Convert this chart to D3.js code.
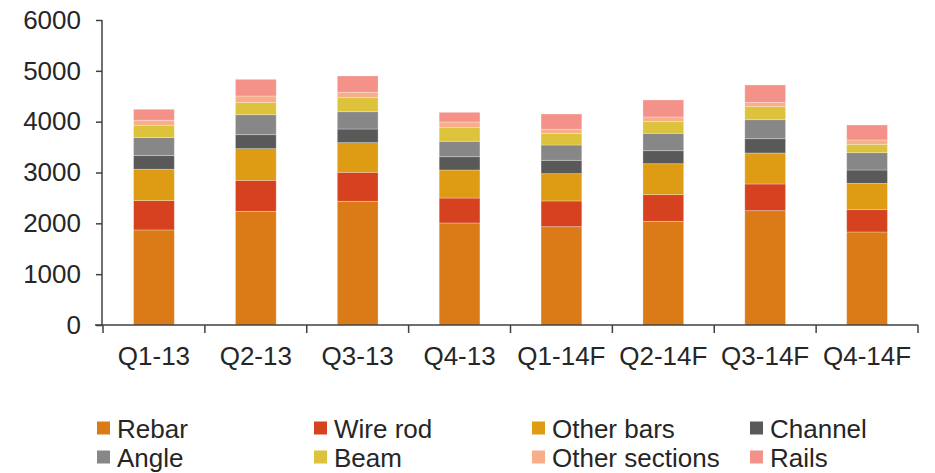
<!DOCTYPE html>
<html>
<head>
<meta charset="utf-8">
<script src="https://cdn.jsdelivr.net/npm/d3@7"></script>
<style>
  html, body { margin: 0; padding: 0; background: #fff; }
  svg { display: block; font-family: "Liberation Sans", Arial, sans-serif; }
</style>
</head>
<body>
<svg id="chart" width="935" height="473"></svg>
<script>
const categories = ["Q1-13", "Q2-13", "Q3-13", "Q4-13", "Q1-14F", "Q2-14F", "Q3-14F", "Q4-14F"];
const seriesNames = ["Rebar", "Wire rod", "Other bars", "Channel", "Angle", "Beam", "Other sections", "Rails"];
const rebar         = [1870, 2237, 2434, 2007, 1934, 2040, 2249, 1830];
const wireRod       = [577, 609, 570, 491, 506, 524, 525, 439];
const otherBars     = [617, 623, 583, 551, 537, 609, 610, 518];
const channel       = [268, 275, 269, 262, 263, 256, 281, 262];
const angle         = [354, 393, 340, 303, 301, 342, 374, 341];
const beam          = [243, 237, 276, 268, 230, 229, 256, 165];
const otherSections = [99, 131, 106, 112, 79, 92, 86, 85];
const rails         = [216, 328, 321, 190, 301, 335, 341, 295];
const yTicks = [0, 1000, 2000, 3000, 4000, 5000, 6000];
const colors = ["#DA7B18", "#D6421F", "#DE9B14", "#595959", "#878787", "#DDC23B", "#F8AE88", "#F4928A"];

const seriesValues = [rebar, wireRod, otherBars, channel, angle, beam, otherSections, rails];
const table = categories.map((c, i) => {
  const row = { cat: c };
  seriesNames.forEach((s, j) => row[s] = seriesValues[j][i]);
  return row;
});

const svg = d3.select("#chart");
const textColor = "#262626";
const axisColor = "#404040";

const x = d3.scaleBand().domain(categories).range([103, 918]).paddingInner(0.6).paddingOuter(0.3);
const y = d3.scaleLinear().domain([0, 6000]).range([325, 20]);

const stack = d3.stack().keys(seriesNames)(table);

svg.append("g").selectAll("g").data(stack).join("g")
  .attr("fill", (d, i) => colors[i])
  .selectAll("rect").data(d => d).join("rect")
  .attr("x", d => x(d.data.cat))
  .attr("width", x.bandwidth())
  .attr("y", d => y(d[1]))
  .attr("height", d => y(d[0]) - y(d[1]))
  .attr("stroke", "#ffffff")
  .attr("stroke-opacity", 0.35)
  .attr("stroke-width", 0.8);

// Y axis
const yAxis = svg.append("g").attr("transform", "translate(102,0)")
  .call(d3.axisLeft(y).tickValues(yTicks).tickSize(6).tickPadding(15).tickFormat(d3.format("d")));
yAxis.select(".domain").attr("stroke", axisColor).attr("stroke-width", 1.5).attr("d", "M0,20V325");
yAxis.selectAll(".tick line").attr("stroke", axisColor).attr("stroke-width", 1.5);
yAxis.selectAll(".tick text").attr("fill", textColor).style("font-size", "26px")
  .style("font-family", "Liberation Sans, Arial, sans-serif");

// X axis with boundary ticks
const xg = svg.append("g").attr("transform", "translate(0,325)");
xg.append("line").attr("x1", 95).attr("x2", 918).attr("y1", 0).attr("y2", 0)
  .attr("stroke", axisColor).attr("stroke-width", 1.5);
const step = x.step();
xg.selectAll("line.b").data(d3.range(categories.length + 1)).join("line").attr("class", "b")
  .attr("x1", i => Math.min(918, 103 + i * step))
  .attr("x2", i => Math.min(918, 103 + i * step))
  .attr("y1", 0).attr("y2", 8)
  .attr("stroke", axisColor).attr("stroke-width", 1.5);
xg.selectAll("text").data(categories).join("text")
  .attr("x", d => x(d) + x.bandwidth() / 2)
  .attr("y", 40)
  .attr("text-anchor", "middle")
  .attr("fill", textColor)
  .style("font-size", "26px")
  .text(d => d);

// Legend
const legendCols = [97, 314, 532, 750];
const legendRows = [428, 457];
const lg = svg.append("g");
seriesNames.forEach((s, i) => {
  const cx = legendCols[i % 4];
  const cy = legendRows[Math.floor(i / 4)];
  lg.append("rect").attr("x", cx).attr("y", cy - 6.5).attr("width", 13).attr("height", 13).attr("fill", colors[i]);
  lg.append("text").attr("x", cx + 20).attr("y", cy + 9.5)
    .attr("fill", textColor).style("font-size", "26px").text(s);
});
</script>
</body>
</html>
